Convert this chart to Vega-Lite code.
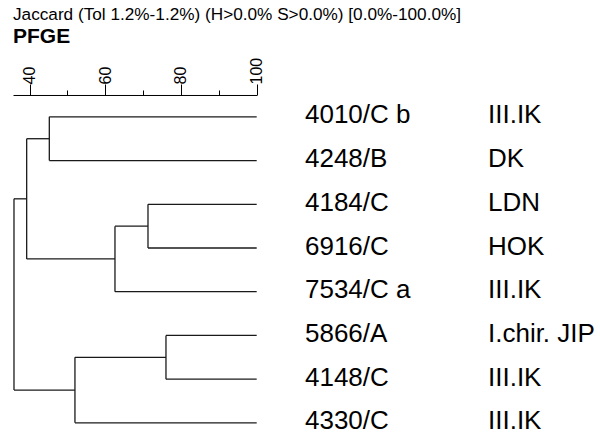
{
  "$schema": "https://vega.github.io/schema/vega-lite/v6.json",
  "autosize": "none",
  "width": 243.7,
  "height": 338.8,
  "padding": {"left": 13, "top": 95, "right": 343.3, "bottom": 0},
  "background": "white",
  "config": {"view": {"stroke": null}, "font": "Liberation Sans"},
  "title": {
    "text": "Jaccard (Tol 1.2%-1.2%) (H>0.0% S>0.0%) [0.0%-100.0%]",
    "subtitle": "PFGE",
    "anchor": "start",
    "frame": "group",
    "font": "Liberation Sans",
    "fontSize": 17.2,
    "fontWeight": "normal",
    "color": "black",
    "subtitleFont": "Liberation Sans",
    "subtitleFontSize": 21,
    "subtitleFontWeight": "bold",
    "subtitleColor": "black",
    "subtitlePadding": 3,
    "offset": 10
  },
  "datasets": {
    "segments": [
      {"x": 100, "x2": 45.23, "y": 0, "y2": 0},
      {"x": 100, "x2": 45.23, "y": 1, "y2": 1},
      {"x": 100, "x2": 71.29, "y": 2, "y2": 2},
      {"x": 100, "x2": 71.29, "y": 3, "y2": 3},
      {"x": 100, "x2": 62.57, "y": 4, "y2": 4},
      {"x": 100, "x2": 76.04, "y": 5, "y2": 5},
      {"x": 100, "x2": 76.04, "y": 6, "y2": 6},
      {"x": 100, "x2": 52.0, "y": 7, "y2": 7},
      {"x": 45.23, "x2": 39.25, "y": 0.5, "y2": 0.5},
      {"x": 71.29, "x2": 62.57, "y": 2.5, "y2": 2.5},
      {"x": 62.57, "x2": 39.25, "y": 3.25, "y2": 3.25},
      {"x": 76.04, "x2": 52.0, "y": 5.5, "y2": 5.5},
      {"x": 39.25, "x2": 35.9, "y": 1.875, "y2": 1.875},
      {"x": 52.0, "x2": 35.9, "y": 6.25, "y2": 6.25},
      {"x": 45.23, "x2": 45.23, "y": 0, "y2": 1},
      {"x": 71.29, "x2": 71.29, "y": 2, "y2": 3},
      {"x": 62.57, "x2": 62.57, "y": 2.5, "y2": 4},
      {"x": 39.25, "x2": 39.25, "y": 0.5, "y2": 3.25},
      {"x": 76.04, "x2": 76.04, "y": 5, "y2": 6},
      {"x": 52.0, "x2": 52.0, "y": 5.5, "y2": 7},
      {"x": 35.9, "x2": 35.9, "y": 1.875, "y2": 6.25}
    ],
    "leaves": [
      {"leaf": 0, "id": "4010/C b", "group": "III.IK"},
      {"leaf": 1, "id": "4248/B", "group": "DK"},
      {"leaf": 2, "id": "4184/C", "group": "LDN"},
      {"leaf": 3, "id": "6916/C", "group": "HOK"},
      {"leaf": 4, "id": "7534/C a", "group": "III.IK"},
      {"leaf": 5, "id": "5866/A", "group": "I.chir. JIP"},
      {"leaf": 6, "id": "4148/C", "group": "III.IK"},
      {"leaf": 7, "id": "4330/C", "group": "III.IK"}
    ]
  },
  "layer": [
    {
      "data": {"name": "segments"},
      "mark": {"type": "rule", "color": "#1a1a1a", "strokeWidth": 1.3},
      "encoding": {
        "x": {
          "field": "x", "type": "quantitative",
          "scale": {"domain": [35.64, 100], "nice": false, "zero": false},
          "axis": {
            "orient": "top",
            "title": null,
            "grid": false,
            "values": [40, 45, 50, 55, 60, 65, 70, 75, 80, 85, 90, 95, 100],
            "labelExpr": "datum.value % 20 === 0 ? datum.label : ''",
            "labelAngle": 270,
            "labelAlign": "left",
            "labelBaseline": "middle",
            "labelFont": "Liberation Sans",
            "labelFontSize": 16,
            "labelColor": "black",
            "labelPadding": 0,
            "labelFlush": false,
            "labelOverlap": false,
            "domainColor": "black",
            "domainWidth": 1,
            "tickColor": "black",
            "tickWidth": 1,
            "tickSize": {"condition": {"test": "datum.value % 20 === 0", "value": 11}, "value": 5}
          }
        },
        "x2": {"field": "x2"},
        "y": {
          "field": "y", "type": "quantitative",
          "scale": {"domain": [-0.5, 7.25], "reverse": true, "nice": false, "zero": false},
          "axis": null
        },
        "y2": {"field": "y2"}
      }
    },
    {
      "data": {"name": "leaves"},
      "mark": {"type": "text", "align": "left", "baseline": "middle", "dx": 48.3, "dy": -1.5, "fontSize": 26, "font": "Liberation Sans", "color": "black"},
      "encoding": {
        "x": {"datum": 100, "type": "quantitative"},
        "y": {"field": "leaf", "type": "quantitative"},
        "text": {"field": "id"}
      }
    },
    {
      "data": {"name": "leaves"},
      "mark": {"type": "text", "align": "left", "baseline": "middle", "dx": 231.3, "dy": -1.5, "fontSize": 26, "font": "Liberation Sans", "color": "black"},
      "encoding": {
        "x": {"datum": 100, "type": "quantitative"},
        "y": {"field": "leaf", "type": "quantitative"},
        "text": {"field": "group"}
      }
    }
  ]
}
